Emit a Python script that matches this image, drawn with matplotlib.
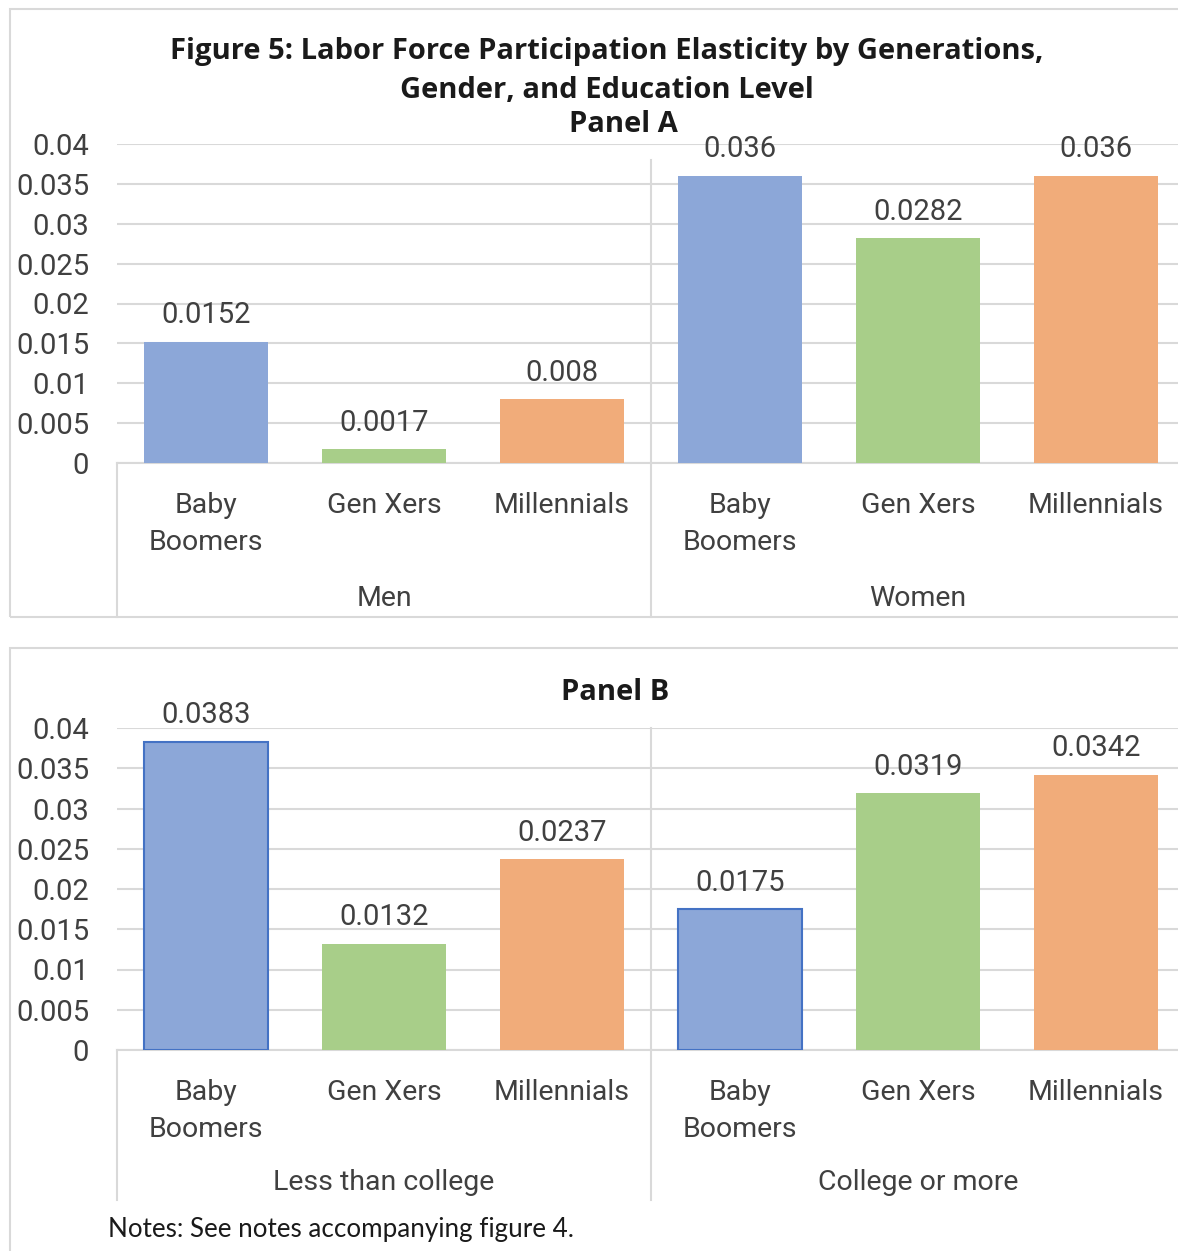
import matplotlib
matplotlib.use("Agg")
import matplotlib.pyplot as plt
from matplotlib.patches import Rectangle
from matplotlib.ticker import FuncFormatter, MultipleLocator

# generations within each group, three bars per group
generations = ["Baby\nBoomers", "Gen Xers", "Millennials"]
bar_colors = ["#8CA7D8", "#A8CE89", "#F1AC7A"]

# Panel A: by gender
groups_a = ["Men", "Women"]
men = [0.0152, 0.0017, 0.008]
women = [0.036, 0.0282, 0.036]

# Panel B: by education
groups_b = ["Less than college", "College or more"]
less_college = [0.0383, 0.0132, 0.0237]
college_more = [0.0175, 0.0319, 0.0342]

W, H = 1178, 1251
GRID = "#D9D9D9"
TXT = "#404040"
FS = 20.5

plt.rcParams["font.family"] = ["Roboto", "DejaVu Sans"]

fig = plt.figure(figsize=(W / 100, H / 100), dpi=100)
fig.patch.set_facecolor("white")


def px_box(x0, y0, x1, y1):
    # pixel box (top-left origin) -> figure fraction rect
    return [x0 / W, 1 - y1 / H, (x1 - x0) / W, (y1 - y0) / H]


def draw_panel(ax, groups, values, edge, div_top, low):
    cats = [g for _ in groups for g in generations]
    vals = [v for grp in values for v in grp]
    cols = bar_colors * len(groups)
    x = list(range(len(vals)))
    bars = ax.bar(x, vals, width=0.70, color=cols, zorder=3, linewidth=0)
    if edge:
        # only the first series carries an outline
        for b in bars[0::3]:
            b.set_edgecolor(edge)
            b.set_linewidth(1.5)
    for xi, v in zip(x, vals):
        ax.annotate("%g" % v, (xi, v), xytext=(0, 9), textcoords="offset points",
                    ha="center", va="bottom", fontsize=FS + 0.5, color=TXT)

    ax.set_xlim(-0.5, len(vals) - 0.5)
    ax.set_ylim(0, 0.04)
    ax.yaxis.set_major_locator(MultipleLocator(0.005))
    ax.yaxis.set_major_formatter(FuncFormatter(lambda v, p: "%g" % round(v, 4)))
    ax.grid(axis="y", color=GRID, linewidth=1.5, zorder=0)
    ax.set_axisbelow(True)
    for s in ["top", "right", "left"]:
        ax.spines[s].set_visible(False)
    ax.spines["bottom"].set_color(GRID)
    ax.spines["bottom"].set_linewidth(1.5)
    ax.tick_params(axis="y", length=0, pad=20, labelsize=FS + 0.5, labelcolor=TXT)
    ax.tick_params(axis="x", length=0, pad=21, labelsize=FS, labelcolor=TXT)
    ax.set_xticks(x)
    ax.set_xticklabels(cats)
    for lab in ax.get_xticklabels():
        lab.set_linespacing(1.45)

    tr = ax.get_xaxis_transform()
    # category axis dividers below the plot
    ax.plot([-0.5, -0.5], [0, low], color=GRID, lw=1.5, transform=tr, clip_on=False)
    ax.plot([2.5, 2.5], [div_top, low], color=GRID, lw=1.5, transform=tr, clip_on=False)
    for i, g in enumerate(groups):
        ax.text(3 * i + 1, low * 0.88, g, transform=tr, ha="center", va="center",
                fontsize=FS, color=TXT)


# panel frames
fig.add_artist(Rectangle((10 / W, 1 - 617 / H), 1.2, 608 / H, transform=fig.transFigure,
                         fill=False, edgecolor=GRID, lw=1.5))
fig.add_artist(Rectangle((10 / W, -0.05), 1.2, 1 - 648 / H + 0.05, transform=fig.transFigure,
                         fill=False, edgecolor=GRID, lw=1.5))

ax_a = fig.add_axes(px_box(117, 144, 1185, 463))
draw_panel(ax_a, groups_a, [men, women], None, 0.95, -0.483)

ax_b = fig.add_axes(px_box(117, 728, 1185, 1050))
draw_panel(ax_b, groups_b, [less_college, college_more], "#4472C4", 1.0, -0.466)

title_font = ["Open Sans", "DejaVu Sans"]
title_kw = dict(ha="center", va="center", fontsize=21, fontweight="bold",
                color="#1a1a1a", family=title_font)
fig.text(607 / W, 1 - 51 / H, "Figure 5: Labor Force Participation Elasticity by Generations,", **title_kw)
fig.text(607 / W, 1 - 91 / H, "Gender, and Education Level", **title_kw)
fig.text(623 / W, 1 - 124 / H, "Panel A", **title_kw)
fig.text(615 / W, 1 - 692 / H, "Panel B", **title_kw)

fig.text(108 / W, 1 - 1230 / H, "Notes: See notes accompanying figure 4.",
         ha="left", va="center", fontsize=18.7, color="#1a1a1a", family=["Lato", "DejaVu Sans"])

fig.savefig("out.png", dpi=100)
